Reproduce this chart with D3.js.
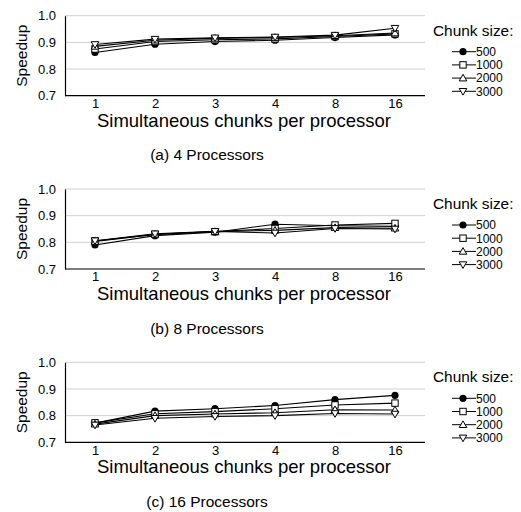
<!DOCTYPE html>
<html><head><meta charset="utf-8">
<script src="https://cdn.jsdelivr.net/npm/d3@7"></script>
<style>body{margin:0;background:#fff}svg{display:block}text{font-family:"Liberation Sans",Arial,sans-serif;fill:#000}</style>
</head><body>
<script>
const categories = ["1","2","3","4","8","16"];
const chunkSizes = ["500","1000","2000","3000"];
const yTicks = [0.7,0.8,0.9,1.0];
const panelTitles = ["(a) 4 Processors","(b) 8 Processors","(c) 16 Processors"];
// 4 processors
const p4_500  = [0.862,0.893,0.903,0.908,0.918,0.928];
const p4_1000 = [0.875,0.903,0.910,0.913,0.922,0.932];
const p4_2000 = [0.885,0.908,0.915,0.918,0.925,0.935];
const p4_3000 = [0.892,0.912,0.917,0.920,0.927,0.953];
// 8 processors
const p8_500  = [0.790,0.825,0.838,0.868,0.862,0.860];
const p8_1000 = [0.805,0.830,0.840,0.852,0.865,0.871];
const p8_2000 = [0.803,0.830,0.840,0.845,0.855,0.853];
const p8_3000 = [0.806,0.832,0.841,0.835,0.852,0.850];
// 16 processors
const p16_500  = [0.772,0.817,0.826,0.838,0.860,0.876];
const p16_1000 = [0.773,0.807,0.815,0.826,0.840,0.847];
const p16_2000 = [0.768,0.800,0.806,0.811,0.822,0.821];
const p16_3000 = [0.765,0.790,0.797,0.800,0.808,0.806];

const panels = [
  [p4_500,p4_1000,p4_2000,p4_3000],
  [p8_500,p8_1000,p8_2000,p8_3000],
  [p16_500,p16_1000,p16_2000,p16_3000]
];
const markers = ["circle","square","tri","tridown"];

const W=521,H=512;
const FONT='"Liberation Sans",Arial,sans-serif';
const svg=d3.select("body").append("svg").attr("width",W).attr("height",H);
const left=65, right=425, ph=80;
const tops=[15.7,189,362.3];
const x=d3.scalePoint().domain(categories).range([left,right]).padding(0.5);

function drawMarker(g,type,cx,cy){
  if(type==="circle") g.append("circle").attr("cx",cx).attr("cy",cy).attr("r",3.6).attr("fill","#000");
  else if(type==="square") g.append("rect").attr("x",cx-3.2).attr("y",cy-3.2).attr("width",6.4).attr("height",6.4).attr("fill","#fff").attr("stroke","#000").attr("stroke-width",1);
  else if(type==="tri") g.append("path").attr("d",`M${cx},${cy-3.8}L${cx+3.8},${cy+2.8}L${cx-3.8},${cy+2.8}Z`).attr("fill","#fff").attr("stroke","#000").attr("stroke-width",1);
  else g.append("path").attr("d",`M${cx},${cy+3.8}L${cx+3.8},${cy-2.8}L${cx-3.8},${cy-2.8}Z`).attr("fill","#fff").attr("stroke","#000").attr("stroke-width",1);
}

panels.forEach((series,pi)=>{
  const top=tops[pi];
  const y=d3.scaleLinear().domain([0.7,1.0]).range([top+ph,top]);
  const g=svg.append("g");
  g.selectAll(".grid").data(yTicks.slice(1)).join("line")
    .attr("x1",left).attr("x2",right).attr("y1",d=>y(d)).attr("y2",d=>y(d))
    .attr("stroke","#d0d0d0").attr("stroke-width",1);
  const ya=g.append("g").attr("transform",`translate(${left},0)`)
    .call(d3.axisLeft(y).tickValues(yTicks).tickFormat(d3.format(".1f")).tickSize(0).tickPadding(9));
  ya.attr("font-family",FONT);
  ya.select(".domain").attr("stroke","#000").attr("stroke-width",1.2);
  ya.selectAll("text").attr("font-size",13);
  const xa=g.append("g").attr("transform",`translate(0,${top+ph})`)
    .call(d3.axisBottom(x).tickSize(0).tickPadding(3));
  xa.attr("font-family",FONT);
  xa.select(".domain").attr("stroke","#000").attr("stroke-width",1.2).attr("d",`M${left},0H${right}`);
  xa.selectAll("text").attr("font-size",13);
  g.append("text").attr("transform",`translate(27,${top+ph/2}) rotate(-90)`)
    .attr("text-anchor","middle").attr("font-size",15.5).text("Speedup");
  g.append("text").attr("x",244).attr("y",top+ph+31).attr("text-anchor","middle")
    .attr("font-size",18.5).text("Simultaneous chunks per processor");
  g.append("text").attr("x",207).attr("y",top+ph+64.5).attr("text-anchor","middle")
    .attr("font-size",15.5).text(panelTitles[pi]);
  const line=d3.line().x((d,i)=>x(categories[i])).y(d=>y(d));
  series.forEach(vals=>{
    g.append("path").datum(vals).attr("d",line).attr("fill","none").attr("stroke","#000").attr("stroke-width",1.1);
  });
  series.forEach((vals,si)=>{
    vals.forEach((v,i)=>drawMarker(g,markers[si],x(categories[i]),y(v)));
  });
  const lg=svg.append("g");
  lg.append("text").attr("x",433).attr("y",top+20).attr("font-size",15.4).text("Chunk size:");
  chunkSizes.forEach((c,si)=>{
    const ly=top+36+si*13.2;
    lg.append("line").attr("x1",452).attr("x2",476).attr("y1",ly).attr("y2",ly).attr("stroke","#000").attr("stroke-width",1);
    drawMarker(lg,markers[si],463,ly);
    lg.append("text").attr("x",476).attr("y",ly+4.3).attr("font-size",12).text(c);
  });
});
</script>
</body></html>
